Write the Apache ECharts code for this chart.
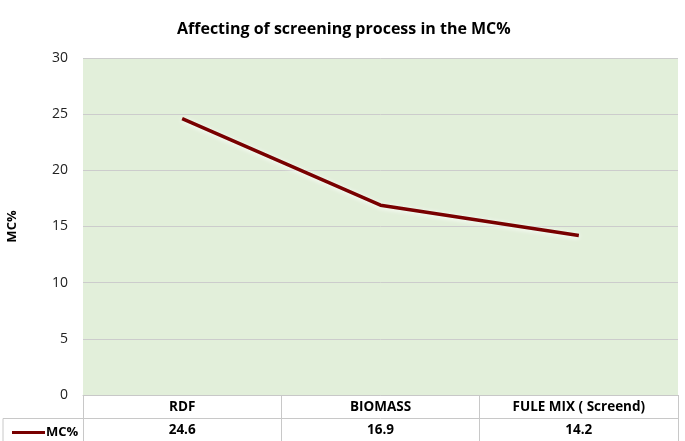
<!DOCTYPE html>
<html>
<head>
<meta charset="utf-8">
<script src="https://cdn.jsdelivr.net/npm/echarts@6/dist/echarts.min.js"></script>
<style>
  html, body { margin: 0; padding: 0; background: #fff; }
  #chart { width: 685px; height: 441px; }
</style>
</head>
<body>
<div id="chart"></div>
<script>
const categories = ["RDF", "BIOMASS", "FULE MIX ( Screend)"];
const mcValues = [24.6, 16.9, 14.2];
const seriesName = "MC%";

const font = "'Open Sans', 'Liberation Sans', sans-serif";
const tableLine = "#C8C8C8";

const myChart = echarts.init(document.getElementById("chart"));
myChart.setOption({
  animation: false,
  textStyle: { fontFamily: font },
  title: {
    text: "Affecting of screening process in the MC%",
    left: 172,
    top: 16,
    textStyle: { fontSize: 16, fontWeight: "bold", color: "#000", fontFamily: font },
  },
  legend: {
    left: 7,
    top: 421,
    icon: "rect",
    itemWidth: 33,
    itemHeight: 3,
    itemGap: 2,
    data: [seriesName],
    textStyle: { fontSize: 13, fontWeight: "bold", color: "#000", padding: [0, 0, 0, -4] },
  },
  grid: {
    left: 83,
    right: 7,
    top: 58,
    bottom: 46,
    outerBoundsMode: "none",
    containLabel: false,
    show: true,
    backgroundColor: "#E2EFDA",
    borderWidth: 0,
  },
  xAxis: [
    {
      type: "category",
      data: categories,
      boundaryGap: true,
      axisLine: { show: true, lineStyle: { color: tableLine, width: 1 } },
      axisTick: { show: true, length: 46, interval: 0, lineStyle: { color: tableLine } },
      axisLabel: {
        interval: 0,
        margin: 0,
        lineHeight: 24,
        fontSize: 13.5,
        fontWeight: "bold",
        color: "#000",
      },
      splitLine: { show: false },
    },
    {
      type: "category",
      data: categories,
      position: "bottom",
      offset: 23,
      boundaryGap: true,
      axisLine: { show: true, lineStyle: { color: tableLine, width: 1 } },
      axisTick: { show: false },
      axisLabel: {
        interval: 0,
        margin: 0,
        lineHeight: 24,
        fontSize: 13.5,
        fontWeight: "bold",
        color: "#000",
        formatter: (v, i) => String(mcValues[i]),
      },
      splitLine: { show: false },
    },
  ],
  yAxis: {
    type: "value",
    min: 0,
    max: 30,
    interval: 5,
    name: "MC%",
    nameLocation: "middle",
    nameGap: 64,
    nameRotate: 90,
    nameTextStyle: { fontSize: 13, fontWeight: "bold", color: "#000" },
    axisLine: { show: false },
    axisTick: { show: false },
    axisLabel: { fontSize: 14, color: "#222", margin: 15 },
    splitLine: { lineStyle: { color: "#CCCCCC", width: 1 } },
  },
  series: [
    {
      name: seriesName,
      type: "line",
      data: mcValues,
      xAxisIndex: 0,
      symbol: "none",
      color: "#780000",
      lineStyle: {
        width: 3.5,
        color: "#780000",
        shadowColor: "#ffffff",
        shadowBlur: 5,
        shadowOffsetY: 1,
      },
    },
  ],
  graphic: [
    {
      type: "polyline",
      shape: { points: [[3, 441], [3, 418.5], [83, 418.5]] },
      style: { stroke: tableLine, lineWidth: 1, fill: null },
    },
  ],
});
</script>
</body>
</html>
